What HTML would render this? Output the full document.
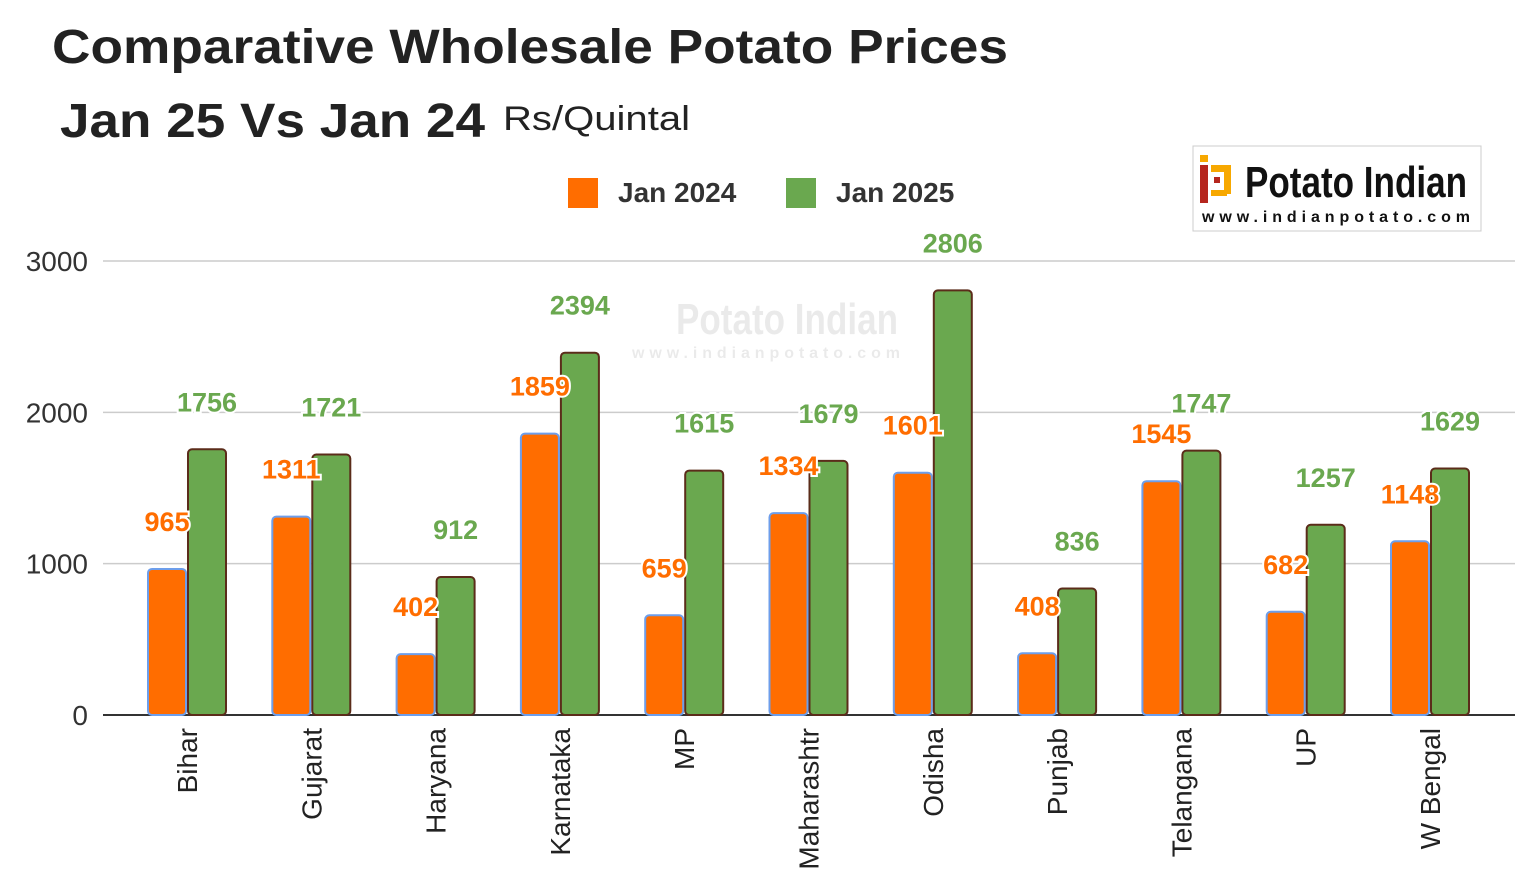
<!DOCTYPE html>
<html><head><meta charset="utf-8"><style>
body{margin:0;background:#fff;width:1533px;height:884px;overflow:hidden;font-family:"Liberation Sans",sans-serif}
</style></head><body>
<svg width="1533" height="884" id="c">
<text x="52" y="63" font-size="48" font-weight="bold" fill="#222" textLength="956" lengthAdjust="spacingAndGlyphs">Comparative Wholesale Potato Prices</text>
<text x="60" y="137" font-size="48" font-weight="bold" fill="#222" textLength="425" lengthAdjust="spacingAndGlyphs">Jan 25  Vs Jan 24</text>
<text x="503" y="130" font-size="34" fill="#222" textLength="187" lengthAdjust="spacingAndGlyphs">Rs/Quintal</text>
<g>
<rect x="568" y="178" width="30" height="30" fill="#ff6d00"/>
<text x="618" y="202" font-size="28" font-weight="bold" fill="#333">Jan 2024</text>
<rect x="786" y="178" width="30" height="30" fill="#6aa84f"/>
<text x="836" y="202" font-size="28" font-weight="bold" fill="#333">Jan 2025</text>
</g>
<g>
<rect x="1193" y="146" width="288" height="85" fill="#fff" stroke="#ccc"/>
<rect x="1200" y="165" width="8" height="38" fill="#b5261e"/>
<rect x="1200" y="155" width="8" height="7" fill="#f7a800"/>
<rect x="1211" y="165" width="20" height="7" fill="#f7a800"/>
<rect x="1224" y="172" width="7" height="22" fill="#f7a800"/>
<rect x="1211" y="190" width="16" height="6" fill="#f7a800"/>
<rect x="1214" y="177" width="6" height="6" fill="#b5261e"/>
<text x="1245" y="197" font-size="44" font-weight="bold" fill="#111" textLength="222" lengthAdjust="spacingAndGlyphs">Potato Indian</text>
<text x="1202" y="222" font-size="16" font-weight="bold" fill="#111" textLength="268" lengthAdjust="spacing">www.indianpotato.com</text>
</g>
<g opacity="0.08">
<text x="676" y="334" font-size="44" font-weight="bold" fill="#000" textLength="222" lengthAdjust="spacingAndGlyphs">Potato Indian</text>
<text x="632" y="358" font-size="16" font-weight="bold" fill="#000" textLength="268">www.indianpotato.com</text>
</g>
<g id="grid"></g><g id="bars"></g><g id="labels"></g>
</svg>
<script>
const categories=["Bihar","Gujarat","Haryana","Karnataka","MP","Maharashtr","Odisha","Punjab","Telangana","UP","W Bengal"];
const jan2024=[965,1311,402,1859,659,1334,1601,408,1545,682,1148];
const jan2025=[1756,1721,912,2394,1615,1679,2806,836,1747,1257,1629];
const yTicks=[0,1000,2000,3000];
const NS="http://www.w3.org/2000/svg";
const y=v=>715-v*(454/3000);
const x=i=>148+i*124.3;
function mk(p,t,a){const e=document.createElementNS(NS,t);for(const k in a)e.setAttribute(k,a[k]);p.appendChild(e);return e;}
const g=document.getElementById('grid'),b=document.getElementById('bars'),l=document.getElementById('labels');
yTicks.forEach(v=>{
 const ln=mk(g,'line',{x1:103,x2:1515,y1:y(v),y2:y(v),stroke:v?'#ccc':'#333','stroke-width':v?1.5:2});
 
 
 const t=mk(g,'text',{x:88,y:y(v)+10,'text-anchor':'end','font-size':28,fill:'#333'});
 t.textContent=v;
 
 
});
categories.forEach((c,i)=>{
 const x0=x(i);
 [[jan2024[i],x0,'#ff6d00','#6d9eeb','#ff6d00'],[jan2025[i],x0+40,'#6aa84f','#5b2c1a','#6aa84f']].forEach((s,k)=>{
  const r=mk(b,'rect',{x:s[1],y:y(s[0]),width:38,height:715-y(s[0]),rx:4,fill:s[2],stroke:s[3],'stroke-width':2});
  
  
  const t=mk(l,'text',{x:s[1]+19,y:y(s[0])-38,'text-anchor':'middle','font-size':27,'font-weight':'bold',fill:s[4],stroke:'#fff','stroke-width':4,'paint-order':'stroke'});
  t.textContent=s[0];
  
  
 });
 const cx=x0+39;
 const t=mk(l,'text',{x:0,y:0,transform:`translate(${cx+10},728) rotate(-90)`,'text-anchor':'end','font-size':28,fill:'#222'});
 t.textContent=c;
 
 
});
</script>
</body></html>
